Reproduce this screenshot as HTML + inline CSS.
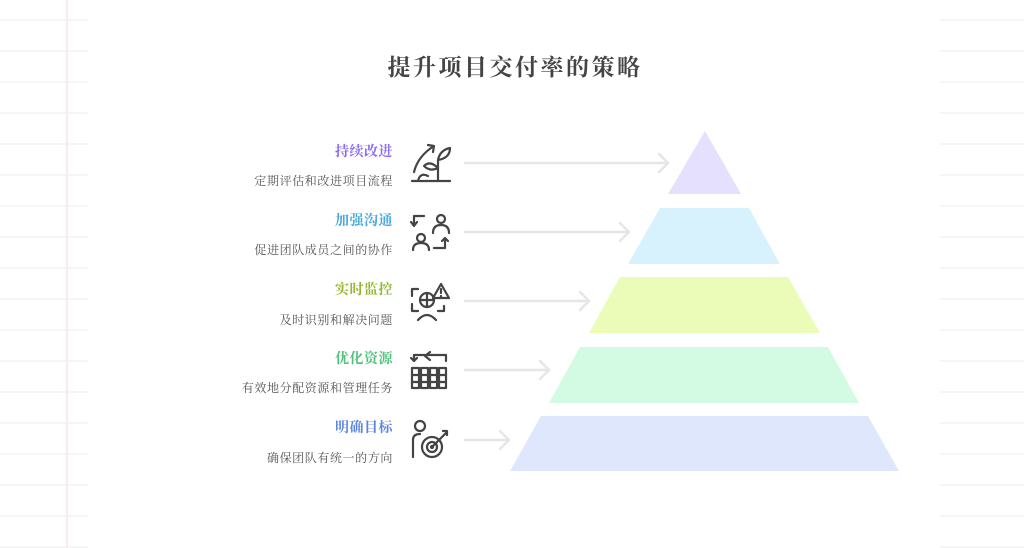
<!DOCTYPE html>
<html><head><meta charset="utf-8"><style>
body{margin:0;width:1024px;height:548px;background:#fff;position:relative;overflow:hidden;font-family:"Liberation Sans","Noto Sans CJK SC",sans-serif}
.bg{position:absolute;top:0;height:548px;background:repeating-linear-gradient(to bottom,transparent 0,transparent 19px,#f5f5f5 19px,#f5f5f5 21px,transparent 21px,transparent 31px)}
.t{position:absolute;right:631px;font-size:14px;letter-spacing:0.5px;font-weight:bold;text-align:right;white-space:nowrap;font-family:"Noto Serif CJK SC","Noto Sans CJK SC",serif}
.s{position:absolute;right:631px;font-size:12px;letter-spacing:0.6px;color:#555;text-align:right;white-space:nowrap;font-family:"Noto Serif CJK SC","Noto Sans CJK SC",serif}
</style></head><body>
<div class="bg" style="left:0;width:88px"></div>
<div class="bg" style="left:940px;width:84px"></div>
<div style="position:absolute;left:66px;top:0;width:2px;height:548px;background:#fdeaea"></div>
<div style="position:absolute;left:0;width:1030px;top:49px;text-align:center;font-size:23px;font-weight:bold;color:#444;font-family:'Noto Serif CJK SC','Noto Sans CJK SC',serif;letter-spacing:2.5px">提升项目交付率的策略</div>

<div class="t" style="top:141px;color:#8b6cf0">持续改进</div>
<div class="s" style="top:172px">定期评估和改进项目流程</div>
<div class="t" style="top:210px;color:#4aa8dc">加强沟通</div>
<div class="s" style="top:241px">促进团队成员之间的协作</div>
<div class="t" style="top:279px;color:#93b82f">实时监控</div>
<div class="s" style="top:311px">及时识别和解决问题</div>
<div class="t" style="top:348px;color:#4fc07a">优化资源</div>
<div class="s" style="top:379px">有效地分配资源和管理任务</div>
<div class="t" style="top:417px;color:#5b86e0">明确目标</div>
<div class="s" style="top:449px">确保团队有统一的方向</div>

<svg width="1024" height="548" style="position:absolute;left:0;top:0">
<g fill="none" stroke="#e6e6e6" stroke-width="2.5" stroke-linecap="round">
<path d="M465 163H668M659 154L668 163L659 172"/>
<path d="M465 232H629M620 223L629 232L620 241"/>
<path d="M465 301H589M580 292L589 301L580 310"/>
<path d="M465 370H549M540 361L549 370L540 379"/>
<path d="M465 440H509M500 431L509 440L500 449"/>
</g>
<polygon points="705,131 741,194 668,194" fill="#e5e0fd"/>
<polygon points="660,208 749,208 780,264 628,264" fill="#d8f2fd"/>
<polygon points="620,277 788,277 820,333 589,333" fill="#eafcb8"/>
<polygon points="580,347 828,347 859,403 549,403" fill="#d3fbe4"/>
<polygon points="541,416 868,416 899,471 510,471" fill="#dee7fb"/>
<g fill="none" stroke="#444" stroke-width="2.2" stroke-linecap="round" stroke-linejoin="round">
<path d="M412 181H450M438 181V160M438 168Q430 160 424 166Q430 172 438 168M438 160Q440 150 450 148Q450 158 438 160M418 181Q420 172 428 176M414 172Q418 156 434 146M428 145L434 146L433 152"/>
<path d="M414 226V216H424M414 226L411 222M414 226L417 222"/>
<circle cx="441" cy="219" r="4"/><path d="M433 233Q433 225 441 225Q449 225 449 233"/>
<circle cx="421" cy="238" r="4"/><path d="M413 250Q413 243 421 243Q429 243 429 250"/>
<path d="M434 248H445V238M442 241L445 238L448 241"/>
<path d="M412 296V289H418M412 304V311H418M438 311H444V306"/>
<circle cx="427" cy="300" r="7"/><path d="M427 293V307M420 300H434"/>
<path d="M418 320Q427 310 436 320"/>
<path d="M441 284L449 298H433Z"/><path d="M441 289V293M441 296V296.5"/>
<path d="M414 361V355H446V361M414 361L411 358M414 361L417 358M425 356L430 352M425 356L430 360"/>
<rect x="412" y="368" width="7" height="20"/><rect x="421" y="368" width="7" height="20"/><rect x="430" y="368" width="7" height="20"/><rect x="439" y="368" width="7" height="20"/>
<path d="M412 375H446M412 382H446"/>
<circle cx="420" cy="426" r="5"/><path d="M413 457V440Q413 434 420 434"/>
<circle cx="432" cy="447" r="10"/><circle cx="432" cy="447" r="5"/><circle cx="432" cy="447" r="1"/>
<path d="M432 447L446 433M443 431L447 431L447 435"/>
</g>
</svg>
</body></html>
